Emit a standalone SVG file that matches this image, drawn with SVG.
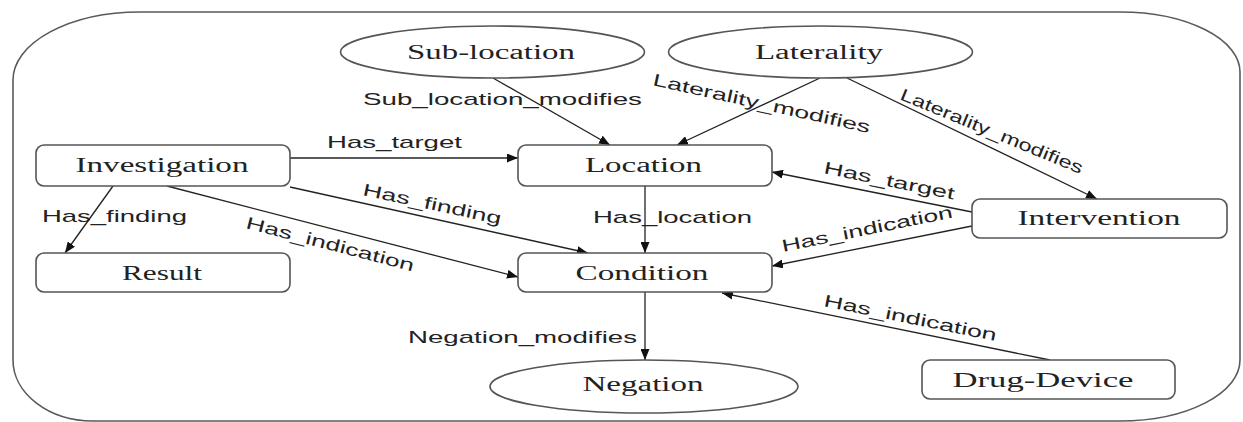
<svg xmlns="http://www.w3.org/2000/svg" width="1243" height="422" viewBox="0 0 1243 422">
<style>
.frame{fill:none;stroke:#5a5a5a;stroke-width:1.6}
.node{fill:#fff;stroke:#555;stroke-width:1.6}
.nt{font-family:"Liberation Serif","Times New Roman",serif;font-size:20px;fill:#222;text-anchor:middle}
.edge{fill:none;stroke:#222;stroke-width:1.3;marker-end:url(#arr)}
.lbl{font-family:"Liberation Sans",Arial,sans-serif;font-size:17px;fill:#222}
</style>
<defs>
<marker id="arr" markerUnits="userSpaceOnUse" markerWidth="11" markerHeight="9" refX="11" refY="4.5" orient="auto">
<path d="M0,0 L11,4.5 L0,9 z" fill="#111"/>
</marker>
</defs>
<rect width="1243" height="422" fill="#fff"/>
<path class="frame" d="M140,12 H1120 A120,60 0 0 1 1240,72 V360 A120,61 0 0 1 1120,421 H93 A80,61 0 0 1 13,360 V80 A127,68 0 0 1 140,12 Z"/>

<g id="connectors">
<line class="edge" x1="493" y1="78" x2="610" y2="145"/>
<line class="edge" x1="820" y1="78" x2="677" y2="145"/>
<line class="edge" x1="847" y1="78" x2="1097" y2="199"/>
<line class="edge" x1="290" y1="158" x2="518" y2="158"/>
<line class="edge" x1="113" y1="186" x2="65" y2="253"/>
<line class="edge" x1="290" y1="187" x2="588" y2="253"/>
<line class="edge" x1="167" y1="186" x2="518" y2="277"/>
<line class="edge" x1="645" y1="186" x2="645" y2="253"/>
<line class="edge" x1="972" y1="212" x2="772" y2="172"/>
<line class="edge" x1="972" y1="226" x2="772" y2="266"/>
<line class="edge" x1="1050" y1="360" x2="722" y2="293"/>
<line class="edge" x1="645" y1="292" x2="645" y2="360"/>

<text class="lbl" x="363" y="105" textLength="279" lengthAdjust="spacingAndGlyphs">Sub_location_modifies</text>
<text class="lbl" transform="translate(652,85) rotate(12.5)" textLength="222" lengthAdjust="spacingAndGlyphs">Laterality_modifies</text>
<text class="lbl" transform="translate(899,99) rotate(22.5)" textLength="196" lengthAdjust="spacingAndGlyphs">Laterality_modifies</text>
<text class="lbl" x="327" y="148" textLength="135" lengthAdjust="spacingAndGlyphs">Has_target</text>
<text class="lbl" x="42" y="222" textLength="145" lengthAdjust="spacingAndGlyphs">Has_finding</text>
<text class="lbl" transform="translate(362,195) rotate(12)" textLength="141" lengthAdjust="spacingAndGlyphs">Has_finding</text>
<text class="lbl" transform="translate(245,228) rotate(14.5)" textLength="173" lengthAdjust="spacingAndGlyphs">Has_indication</text>
<text class="lbl" x="593" y="223" textLength="159" lengthAdjust="spacingAndGlyphs">Has_location</text>
<text class="lbl" transform="translate(823,173) rotate(11.5)" textLength="133" lengthAdjust="spacingAndGlyphs">Has_target</text>
<text class="lbl" transform="translate(783,252) rotate(-11.5)" textLength="174" lengthAdjust="spacingAndGlyphs">Has_indication</text>
<text class="lbl" transform="translate(823,306) rotate(11.5)" textLength="176" lengthAdjust="spacingAndGlyphs">Has_indication</text>
<text class="lbl" x="408" y="343" textLength="229" lengthAdjust="spacingAndGlyphs">Negation_modifies</text>
</g>

<g id="sub-location">
<ellipse class="node" cx="492.5" cy="52" rx="152" ry="26"/>
<text class="nt" x="491" y="59" textLength="168" lengthAdjust="spacingAndGlyphs">Sub-location</text>
</g>
<g id="laterality">
<ellipse class="node" cx="820.5" cy="52" rx="152" ry="26"/>
<text class="nt" x="819" y="59" textLength="128" lengthAdjust="spacingAndGlyphs">Laterality</text>
</g>
<g id="investigation">
<rect class="node" x="36" y="145" width="254" height="41" rx="8"/>
<text class="nt" x="162" y="172" textLength="173" lengthAdjust="spacingAndGlyphs">Investigation</text>
</g>
<g id="location">
<rect class="node" x="518" y="145" width="254" height="41" rx="8"/>
<text class="nt" x="643.5" y="172" textLength="117" lengthAdjust="spacingAndGlyphs">Location</text>
</g>
<g id="result">
<rect class="node" x="36" y="253" width="254" height="39" rx="8"/>
<text class="nt" x="162" y="280" textLength="80" lengthAdjust="spacingAndGlyphs">Result</text>
</g>
<g id="condition">
<rect class="node" x="518" y="253" width="254" height="39" rx="8"/>
<text class="nt" x="642" y="280" textLength="133" lengthAdjust="spacingAndGlyphs">Condition</text>
</g>
<g id="intervention">
<rect class="node" x="972" y="199" width="255" height="39" rx="8"/>
<text class="nt" x="1099" y="225" textLength="163" lengthAdjust="spacingAndGlyphs">Intervention</text>
</g>
<g id="negation">
<ellipse class="node" cx="644" cy="386.5" rx="154" ry="26.5"/>
<text class="nt" x="643" y="391" textLength="121" lengthAdjust="spacingAndGlyphs">Negation</text>
</g>
<g id="drug-device">
<rect class="node" x="922" y="360" width="253" height="39" rx="8"/>
<text class="nt" x="1043" y="387" textLength="181" lengthAdjust="spacingAndGlyphs">Drug-Device</text>
</g>
</svg>
